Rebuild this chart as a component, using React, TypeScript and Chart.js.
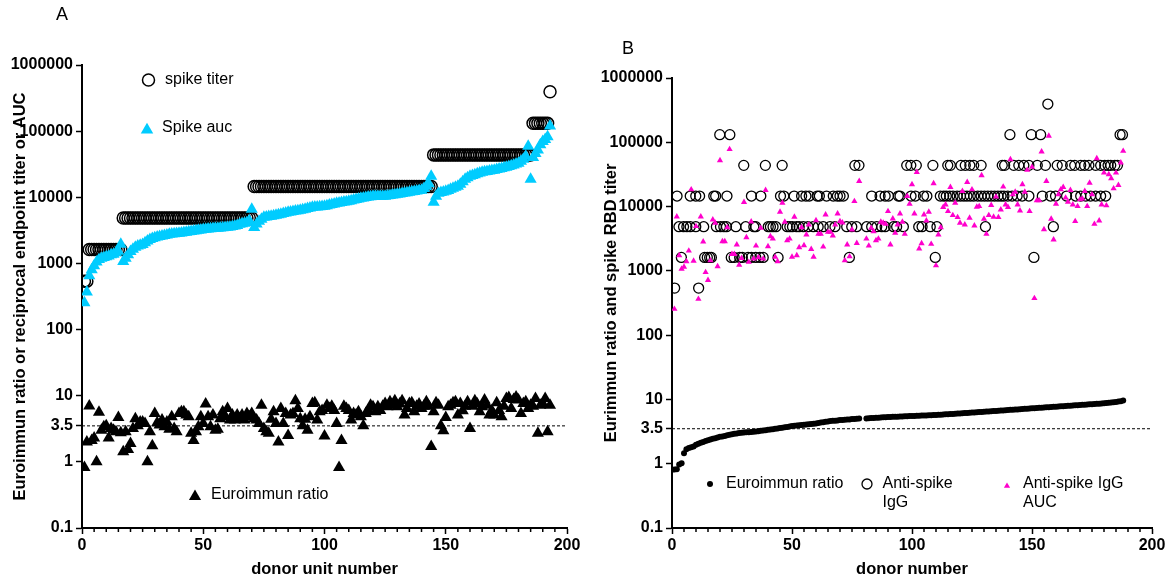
import React, { useEffect, useRef } from 'react';
import { Chart, registerables } from 'chart.js';

Chart.register(...registerables);

const FONT = "'Liberation Sans', Arial, Helvetica, sans-serif";

// ---------- shared axis data ----------
const yTickValues = [0.1, 1, 3.5, 10, 100, 1000, 10000, 100000, 1000000];
const yTickLabels = ['0.1', '1', '3.5', '10', '100', '1000', '10000', '100000', '1000000'];
const xMajorTicks = [0, 50, 100, 150, 200];
const xMinorStep = 5;
const threshold = 3.5;

// ---------- Panel A (donor unit number 1..193) ----------
const titerA = [
  540, 540,
  1620, 1620, 1620, 1620, 1620, 1620, 1620, 1620, 1620, 1620, 1620, 1620, 1620, 1620,
  4860, 4860, 4860, 4860, 4860, 4860, 4860, 4860, 4860, 4860,
  4860, 4860, 4860, 4860, 4860, 4860, 4860, 4860, 4860, 4860,
  4860, 4860, 4860, 4860, 4860, 4860, 4860, 4860, 4860, 4860,
  4860, 4860, 4860, 4860, 4860, 4860, 4860, 4860, 4860, 4860,
  4860, 4860, 4860, 4860, 4860, 4860, 4860, 4860, 4860, 4860,
  4860, 4860, 4860, 4860,
  14580, 14580, 14580, 14580, 14580, 14580, 14580, 14580, 14580, 14580,
  14580, 14580, 14580, 14580, 14580, 14580, 14580, 14580, 14580, 14580,
  14580, 14580, 14580, 14580, 14580, 14580, 14580, 14580, 14580, 14580,
  14580, 14580, 14580, 14580, 14580, 14580, 14580, 14580, 14580, 14580,
  14580, 14580, 14580, 14580, 14580, 14580, 14580, 14580, 14580, 14580,
  14580, 14580, 14580, 14580, 14580, 14580, 14580, 14580, 14580, 14580,
  14580, 14580, 14580, 14580, 14580, 14580, 14580, 14580, 14580, 14580,
  14580, 14580, 14580, 14580,
  43740, 43740, 43740, 43740, 43740, 43740, 43740, 43740, 43740, 43740,
  43740, 43740, 43740, 43740, 43740, 43740, 43740, 43740, 43740, 43740,
  43740, 43740, 43740, 43740, 43740, 43740, 43740, 43740, 43740, 43740,
  43740, 43740, 43740, 43740, 43740, 43740, 43740, 43740, 43740, 43740,
  43740,
  131220, 131220, 131220, 131220, 131220, 131220, 131220,
  393660,
];

const aucA = [
  255, 370, 650, 800, 920, 1050, 1150, 1200, 1230, 1260,
  1300, 1350, 1380, 1450, 1530, 1950, 1070, 1200, 1350, 1520,
  1640, 1750, 1830, 1890, 1940, 2050, 2180, 2310, 2380, 2450,
  2500, 2560, 2600, 2650, 2700, 2750, 2780, 2800, 2830, 2850,
  2890, 2930, 2970, 3010, 3050, 3090, 3130, 3170, 3210, 3270,
  3290, 3310, 3340, 3370, 3390, 3410, 3430, 3460, 3480, 3510,
  3560, 3610, 3680, 3760, 3900, 3980, 4060, 4170, 4400, 6600,
  3500, 3950, 4330, 4650, 4970, 5050, 5120, 5190, 5260, 5330,
  5440, 5560, 5680, 5800, 5920, 6000, 6090, 6180, 6260, 6350,
  6480, 6620, 6760, 6900, 7060, 7110, 7160, 7210, 7270, 7320,
  7470, 7620, 7780, 7940, 8100, 8220, 8340, 8460, 8580, 8700,
  8880, 9060, 9250, 9440, 9640, 9780, 9920, 10060, 10200, 10350,
  10360, 10370, 10380, 10390, 10400, 10540, 10680, 10820, 10960, 11100,
  11260, 11420, 11580, 11740, 11900, 12080, 12260, 12440, 12620, 12800,
  13600, 14700, 16000, 20800, 8400, 10400, 11500, 11800, 12050, 12300,
  12700, 13200, 13700, 14200, 14700, 15800, 17200, 18700, 19700, 20800,
  21400, 22000, 22600, 23200, 23900, 24300, 24600, 25000, 25300, 25700,
  26200, 26800, 27300, 27900, 28500, 29300, 30100, 30900, 31800, 32700,
  35000, 37600, 41600, 59000, 18700, 40000, 46000, 52000, 62000, 70000,
  75000, 82000, 120000,
];

const ratioA = [
  0.82, 2.0, 7.0, 2.1, 2.3, 1.0, 5.6, 3.0, 3.4, 3.5,
  2.3, 3.2, 3.0, 2.85, 4.7, 2.75, 1.42, 2.85, 1.54, 1.9,
  3.2, 4.5, 3.5, 4.0, 4.0, 3.8, 1.0, 2.85, 1.75, 5.4,
  3.9, 3.6, 4.3, 3.4, 4.0, 3.1, 4.8, 3.2, 2.85, 5.4,
  5.7, 5.7, 5.1, 4.8, 2.7, 2.1, 2.85, 3.4, 4.8, 3.8,
  7.5, 4.8, 3.4, 5.1, 3.0, 3.1, 4.5, 5.7, 4.8, 6.4,
  4.3, 5.1, 4.3, 5.1, 4.5, 5.1, 4.3, 5.4, 4.8, 5.4,
  4.5, 4.3, 3.8, 7.2, 3.2, 2.85, 2.7, 4.4, 5.7, 3.8,
  2.0, 6.4, 3.8, 5.4, 2.5, 5.1, 5.4, 8.4, 6.4, 4.5,
  3.5, 4.4, 3.0, 4.8, 7.6, 7.8, 4.3, 5.7, 6.0, 2.45,
  7.2, 6.4, 6.9, 6.0, 3.8, 0.82, 2.1, 6.9, 6.4, 6.0,
  4.3, 5.4, 5.1, 5.7, 4.8, 3.5, 5.4, 6.0, 7.2, 6.8,
  5.7, 6.8, 6.0, 6.9, 7.6, 6.8, 8.1, 7.2, 8.4, 6.8,
  7.5, 8.4, 5.1, 6.4, 7.6, 7.8, 5.7, 6.9, 7.5, 6.4,
  6.9, 8.1, 6.9, 1.7, 5.7, 7.8, 7.2, 3.5, 2.95, 4.7,
  6.8, 7.2, 7.8, 8.1, 5.1, 7.6, 5.9, 6.9, 8.1, 3.2,
  6.9, 8.4, 7.5, 5.7, 6.8, 8.6, 7.2, 5.1, 6.0, 5.1,
  7.8, 6.0, 4.8, 6.9, 9.1, 9.4, 6.4, 8.8, 9.6, 8.6,
  5.4, 7.6, 8.1, 6.4, 7.2, 6.9, 9.1, 2.7, 7.2, 7.6,
  9.1, 2.85, 7.2,
];

// ---------- Panel B (donor number 1..188, 79-80 missing) ----------
const ratioB = [
  0.81, 0.82, 0.97, 1.02, 1.45, 1.68, 1.76, 1.80, 1.85, 1.98,
  2.05, 2.12, 2.18, 2.25, 2.32, 2.38, 2.44, 2.50, 2.56, 2.62,
  2.66, 2.71, 2.76, 2.82, 2.88, 2.92, 2.96, 3.00, 3.03, 3.06,
  3.08, 3.10, 3.12, 3.15, 3.17, 3.21, 3.25, 3.29, 3.33, 3.37,
  3.41, 3.45, 3.49, 3.54, 3.58, 3.63, 3.68, 3.74, 3.80, 3.85,
  3.89, 3.92, 3.96, 3.99, 4.03, 4.06, 4.10, 4.14, 4.18, 4.23,
  4.29, 4.36, 4.42, 4.48, 4.54, 4.60, 4.64, 4.68, 4.72, 4.77,
  4.80, 4.83, 4.86, 4.89, 4.95, 4.98, 5.02, 5.07, null, null,
  5.07, 5.10, 5.13, 5.16, 5.19, 5.21, 5.24, 5.27, 5.30, 5.32,
  5.34, 5.36, 5.38, 5.40, 5.42, 5.44, 5.46, 5.48, 5.50, 5.52,
  5.54, 5.56, 5.58, 5.60, 5.62, 5.64, 5.66, 5.68, 5.70, 5.72,
  5.76, 5.80, 5.84, 5.87, 5.90, 5.93, 5.96, 5.99, 6.02, 6.06,
  6.10, 6.13, 6.17, 6.21, 6.25, 6.28, 6.32, 6.36, 6.40, 6.43,
  6.47, 6.51, 6.55, 6.59, 6.63, 6.67, 6.71, 6.75, 6.80, 6.84,
  6.88, 6.92, 6.96, 7.00, 7.05, 7.09, 7.14, 7.18, 7.22, 7.27,
  7.31, 7.35, 7.40, 7.44, 7.49, 7.53, 7.58, 7.62, 7.66, 7.71,
  7.76, 7.80, 7.85, 7.90, 7.95, 8.00, 8.04, 8.09, 8.14, 8.19,
  8.24, 8.29, 8.34, 8.39, 8.44, 8.49, 8.54, 8.59, 8.64, 8.69,
  8.76, 8.84, 8.92, 9.00, 9.10, 9.25, 9.40, 9.60,
];

const aucB = [
  255, 6980, 1740, 1075, 1155, 1400, 2050, 18400, 1430, 4930,
  365, 6980, 2840, 950, 715, 1450, 6260, 5560, 1170, 52300,
  2870, 2870, 4750, 77800, 1820, 1820, 2550, 1240, 1580, 11700,
  3320, 1370, 5830, 1540, 2460, 1620, 4640, 1540, 18000, 2400,
  3440, 3160, 1640, 1400, 8250, 11400, 5760, 2980, 3160, 1650,
  6900, 1740, 2320, 4750, 2490, 3650, 5230, 2180, 1650, 6110,
  3740, 3740, 2370, 7500, 4020, 4020, 3520, 5230, 7770, 5900,
  5620, 1450, 2550, 1670, 4370, 12100, 2700, 24900, null, null,
  3160, 2460, 4640, 4120, 2980, 3160, 5760, 5560, 5360, 8450,
  2550, 6490, 3880, 5230, 7770, 5760, 3740, 14500, 11000, 22100,
  7780, 34400, 2210, 2670, 7500, 6040, 8250, 2610, 22900, 1210,
  3650, 4750, 9770, 10700, 8450, 20000, 7320, 11400, 6810, 5560,
  17400, 5230, 24000, 6650, 18400, 5050, 9880, 10100, 30500, 6420,
  3740, 7320, 10500, 6900, 14200, 6810, 8980, 20300, 10700, 9770,
  54200, 15400, 16900, 10700, 8660, 22100, 16900, 37000, 8450, 41200,
  374, 12400, 12400, 71500, 4420, 24900, 125600, 6420, 3050, 11000,
  15400, 18400, 20000, 13700, 11800, 18000, 10700, 5900, 10100, 12900,
  13200, 17400, 10100, 23400, 15400, 5360, 56200, 6040, 10700, 33600,
  10400, 31600, 27400, 19100, 33600, 21500, 48100, 73200,
];

// anti-spike IgG endpoint titers (panel B): titer levels and the donor positions read at each level
const titerBLevels = [540, 1620, 4860, 14580, 43740, 131220, 393660];
const titerBDonors = [
  [1.1, 11.1],
  [3.9, 13.6, 14.7, 15.7, 16.4, 24.7, 25.9, 28.2, 29.3, 31.7, 33.1, 34.9, 36.6, 38.0, 44.2, 73.9, 109.7, 150.8],
  [2.9, 4.8, 6.2, 7.6, 9.9, 13.2, 18.5, 20.2, 21.6, 22.7, 26.6, 30.7, 34.1, 34.9, 40.1, 41.0, 42.1, 43.3, 48.0,
    49.1, 50.2, 51.9, 53.0, 54.7, 56.7, 58.9, 60.9, 63.0, 65.8, 67.9, 72.8, 74.9, 76.9, 81.1, 83.2, 85.3, 87.4,
    88.8, 92.3, 93.6, 96.4, 102.8, 104.2, 107.6, 110.4, 130.6, 158.9],
  [2.1, 7.6, 9.9, 11.5, 17.4, 18.2, 22.9, 33.1, 37.0, 45.2, 46.6, 50.9, 54.0, 55.8, 57.2, 60.5, 61.4, 64.4, 67.2,
    68.9, 70.0, 71.4, 83.2, 86.7, 88.8, 90.2, 94.3, 95.0, 99.6, 101.4, 104.8, 106.2, 111.8, 113.2, 114.3, 115.7,
    117.1, 118.8, 120.2, 121.6, 122.9, 124.3, 125.7, 127.4, 128.8, 130.2, 131.6, 133.0, 134.4, 135.8, 137.1,
    138.3, 139.9, 141.7, 143.8, 145.9, 148.7, 154.3, 157.7, 159.8, 164.4, 168.2, 170.3, 172.4, 174.4, 176.5,
    178.6, 180.7],
  [29.9, 38.9, 45.9, 76.2, 77.9, 97.8, 99.5, 101.8, 108.7, 114.9, 116.0, 120.4, 122.2, 124.1, 125.7, 128.8,
    137.6, 138.6, 142.4, 144.5, 146.6, 148.7, 152.2, 155.6, 160.5, 162.6, 166.1, 167.8, 170.3, 171.9, 173.7,
    176.5, 178.6, 180.3, 181.7, 182.8, 184.5, 185.6],
  [19.9, 24.1, 140.8, 149.7, 153.6, 186.7, 187.7],
  [156.6],
];

// ---------- colours ----------
const CYAN = 'rgb(0, 204, 255)';
const MAGENTA = 'rgb(255, 0, 204)';
const BLACK = '#000000';

const byDonor = (arr: (number | null)[]) =>
  arr.map((v, i) => ({ x: i + 1, y: v })).filter((p) => p.y !== null);

function drawTriangle(ctx: CanvasRenderingContext2D, x: number, y: number, r: number, color: string) {
  ctx.beginPath();
  let rad = 0;
  ctx.moveTo(x + Math.sin(rad) * r, y - Math.cos(rad) * r);
  rad += (2 * Math.PI) / 3;
  ctx.lineTo(x + Math.sin(rad) * r, y - Math.cos(rad) * r);
  rad += (2 * Math.PI) / 3;
  ctx.lineTo(x + Math.sin(rad) * r, y - Math.cos(rad) * r);
  ctx.closePath();
  ctx.fillStyle = color;
  ctx.fill();
}

function overlayPlugin(spec: any) {
  return {
    id: 'overlay' + spec.letter.text,
    afterDraw(chart: any) {
      const ctx = chart.ctx as CanvasRenderingContext2D;
      const xs = chart.scales.x;
      const area = chart.chartArea;
      ctx.save();
      // minor x ticks
      ctx.strokeStyle = BLACK;
      ctx.lineWidth = 1.5;
      for (let v = xs.min + xMinorStep; v < xs.max; v += xMinorStep) {
        if (xMajorTicks.includes(v)) continue;
        const px = xs.getPixelForValue(v);
        ctx.beginPath();
        ctx.moveTo(px, area.bottom);
        ctx.lineTo(px, area.bottom + 4);
        ctx.stroke();
      }
      ctx.fillStyle = BLACK;
      // panel letter
      ctx.font = `18px ${FONT}`;
      ctx.textAlign = 'center';
      ctx.textBaseline = 'middle';
      ctx.fillText(spec.letter.text, spec.letter.x, spec.letter.y);
      // x title
      ctx.font = `bold 16.5px ${FONT}`;
      ctx.fillText(spec.xTitle.text, (area.left + area.right) / 2, spec.xTitle.y);
      // y title
      ctx.save();
      ctx.translate(spec.yTitle.x, (area.top + area.bottom) / 2);
      ctx.rotate(-Math.PI / 2);
      ctx.fillText(spec.yTitle.text, 0, 0);
      ctx.restore();
      // legend entries
      for (const item of spec.legend) {
        if (item.marker === 'circle') {
          ctx.beginPath();
          ctx.arc(item.x, item.y, item.r, 0, Math.PI * 2);
          ctx.lineWidth = item.bw;
          ctx.strokeStyle = BLACK;
          ctx.stroke();
        } else if (item.marker === 'dot') {
          ctx.beginPath();
          ctx.arc(item.x, item.y, item.r, 0, Math.PI * 2);
          ctx.fillStyle = BLACK;
          ctx.fill();
        } else {
          drawTriangle(ctx, item.x, item.y, item.r, item.color);
        }
        ctx.fillStyle = BLACK;
        ctx.font = `16px ${FONT}`;
        ctx.textAlign = 'left';
        ctx.textBaseline = 'middle';
        item.lines.forEach((ln: string, k: number) => ctx.fillText(ln, item.tx, item.ty + k * 19));
      }
      ctx.restore();
    },
  };
}

function makeConfig(spec: any) {
  const tickFont = { family: FONT, size: 16, weight: 'bold' as const };
  return {
    type: 'scatter' as const,
    data: { datasets: spec.datasets },
    options: {
      animation: false as const,
      responsive: false,
      events: [],
      layout: { padding: { left: 0, right: spec.padRight, top: spec.padTop, bottom: 0 } },
      plugins: { legend: { display: false }, tooltip: { enabled: false }, title: { display: false } },
      scales: {
        x: {
          type: 'linear' as const,
          min: 0,
          max: 200,
          afterBuildTicks: (s: any) => {
            s.ticks = xMajorTicks.map((v) => ({ value: v }));
          },
          afterFit: (s: any) => {
            s.height = spec.xHeight;
          },
          ticks: { font: tickFont, color: BLACK, padding: 2, autoSkip: false, maxRotation: 0 },
          grid: { display: true, drawOnChartArea: false, drawTicks: true, tickLength: 6, tickWidth: 1.5, tickColor: BLACK },
          border: { display: true, color: BLACK, width: 2 },
        },
        y: {
          type: 'logarithmic' as const,
          min: 0.1,
          max: 1000000,
          afterBuildTicks: (s: any) => {
            s.ticks = yTickValues.map((v) => ({ value: v }));
          },
          afterFit: (s: any) => {
            s.width = spec.yWidth;
          },
          ticks: {
            font: tickFont,
            color: BLACK,
            padding: 3,
            autoSkip: false,
            callback: (v: number) => {
              const i = yTickValues.indexOf(v);
              return i >= 0 ? yTickLabels[i] : '';
            },
          },
          grid: { display: true, drawOnChartArea: false, drawTicks: true, tickLength: 6, tickWidth: 1.5, tickColor: BLACK },
          border: { display: true, color: BLACK, width: 2 },
        },
      },
    },
    plugins: [overlayPlugin(spec)],
  };
}

const thresholdLine = () => ({
  type: 'line',
  data: [
    { x: 0, y: threshold },
    { x: 200, y: threshold },
  ],
  showLine: true,
  borderColor: BLACK,
  borderWidth: 1,
  borderDash: [3, 2],
  pointRadius: 0,
  fill: false,
  order: 9,
});

const specA = {
  padRight: 23,
  padTop: 65,
  xHeight: 53,
  yWidth: 82,
  letter: { text: 'A', x: 62, y: 15 },
  xTitle: { text: 'donor unit number', y: 569 },
  yTitle: { text: 'Euroimmun ratio or reciprocal endpoint titer or AUC', x: 20 },
  legend: [
    { marker: 'circle', r: 6, bw: 1.5, x: 148.5, y: 80, tx: 165, ty: 80, lines: ['spike titer'] },
    { marker: 'triangle', r: 7.2, color: CYAN, x: 147, y: 130, tx: 162, ty: 128, lines: ['Spike auc'] },
    { marker: 'triangle', r: 7, color: BLACK, x: 195, y: 496.5, tx: 211, ty: 495, lines: ['Euroimmun ratio'] },
  ],
  datasets: [
    {
      label: 'Spike auc',
      data: byDonor(aucA),
      pointStyle: 'triangle',
      pointRadius: 7,
      pointBackgroundColor: CYAN,
      pointBorderColor: CYAN,
      pointBorderWidth: 0,
      order: 0,
    },
    {
      label: 'spike titer',
      data: byDonor(titerA),
      pointStyle: 'circle',
      pointRadius: 6,
      pointBackgroundColor: 'rgba(0,0,0,0)',
      pointBorderColor: BLACK,
      pointBorderWidth: 1.5,
      order: 1,
    },
    {
      label: 'Euroimmun ratio',
      data: byDonor(ratioA),
      pointStyle: 'triangle',
      pointRadius: 7,
      pointBackgroundColor: BLACK,
      pointBorderColor: BLACK,
      pointBorderWidth: 0,
      order: 2,
    },
    thresholdLine(),
  ],
};

const titerBPoints = titerBLevels.flatMap((lvl, k) => titerBDonors[k].map((d) => ({ x: d, y: lvl })));

const specB = {
  padRight: 16,
  padTop: 78,
  xHeight: 53,
  yWidth: 82,
  letter: { text: 'B', x: 38, y: 49 },
  xTitle: { text: 'donor number', y: 569 },
  yTitle: { text: 'Eurimmun ratio and spike RBD titer', x: 21.5 },
  legend: [
    { marker: 'dot', r: 3, x: 120, y: 484, tx: 136, ty: 484, lines: ['Euroimmun ratio'] },
    { marker: 'circle', r: 5, bw: 1.3, x: 277, y: 484, tx: 292.5, ty: 484, lines: ['Anti-spike', 'IgG'] },
    { marker: 'triangle', r: 3.6, color: MAGENTA, x: 417, y: 486, tx: 433, ty: 484, lines: ['Anti-spike IgG', 'AUC'] },
  ],
  datasets: [
    {
      label: 'Anti-spike IgG AUC',
      data: byDonor(aucB),
      pointStyle: 'triangle',
      pointRadius: 3.6,
      pointBackgroundColor: MAGENTA,
      pointBorderColor: MAGENTA,
      pointBorderWidth: 0,
      order: 0,
    },
    {
      label: 'Anti-spike IgG',
      data: titerBPoints,
      pointStyle: 'circle',
      pointRadius: 5,
      pointBackgroundColor: 'rgba(0,0,0,0)',
      pointBorderColor: BLACK,
      pointBorderWidth: 1.3,
      order: 1,
    },
    {
      label: 'Euroimmun ratio',
      data: byDonor(ratioB),
      pointStyle: 'circle',
      pointRadius: 3,
      pointBackgroundColor: BLACK,
      pointBorderColor: BLACK,
      pointBorderWidth: 0,
      order: 2,
    },
    thresholdLine(),
  ],
};

export default function App() {
  const refA = useRef<HTMLCanvasElement | null>(null);
  const refB = useRef<HTMLCanvasElement | null>(null);

  useEffect(() => {
    const a = new Chart(refA.current as HTMLCanvasElement, makeConfig(specA) as any);
    const b = new Chart(refB.current as HTMLCanvasElement, makeConfig(specB) as any);
    return () => {
      a.destroy();
      b.destroy();
    };
  }, []);

  return (
    <div style={{ position: 'fixed', left: 0, top: 0, width: 1168, height: 581, background: '#fff' }}>
      <canvas ref={refA} width={590} height={581} style={{ position: 'absolute', left: 0, top: 0, width: 590, height: 581 }} />
      <canvas ref={refB} width={578} height={581} style={{ position: 'absolute', left: 590, top: 0, width: 578, height: 581 }} />
    </div>
  );
}
